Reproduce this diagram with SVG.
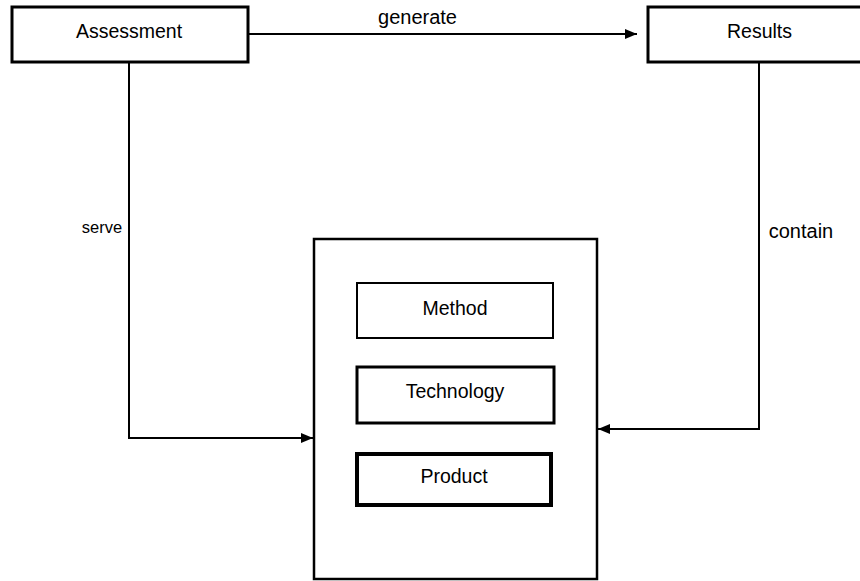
<svg xmlns="http://www.w3.org/2000/svg" width="860" height="581" viewBox="0 0 860 581">
<style>
.box{fill:#fff;stroke:#000}
.lbl{font-family:"Liberation Sans",Arial,sans-serif;font-size:19.5px;fill:#000;text-anchor:middle}
.edge{fill:none;stroke:#000;stroke-width:2}
.el{font-family:"Liberation Sans",Arial,sans-serif;fill:#000;text-anchor:middle}
</style>
<defs>
<marker id="ah" viewBox="0 0 12 10" refX="12" refY="5" markerWidth="12" markerHeight="10" markerUnits="userSpaceOnUse" orient="auto">
<path d="M0,0 L12,5 L0,10 Z" fill="#000"/>
</marker>
</defs>
<rect width="860" height="581" fill="#fff"/>
<g id="connectors">
<path class="edge" d="M248,34 L637,34" marker-end="url(#ah)"/>
<path class="edge" d="M129,62 L129,438 L313,438" marker-end="url(#ah)"/>
<path class="edge" d="M759,62 L759,429 L598,429" marker-end="url(#ah)"/>
<text class="el" x="417.5" y="24" font-size="20">generate</text>
<text class="el" x="102" y="233" font-size="16.5">serve</text>
<text class="el" x="801" y="238" font-size="20">contain</text>
</g>
<g id="assessment">
<rect class="box" x="12" y="7" width="236" height="55" stroke-width="3"/>
<text class="lbl" x="129" y="38">Assessment</text>
</g>
<g id="results">
<rect class="box" x="648" y="7" width="224" height="55" stroke-width="3"/>
<text class="lbl" x="759.5" y="38">Results</text>
</g>
<g id="container">
<rect class="box" x="314" y="239" width="283" height="340" stroke-width="2.5"/>
</g>
<g id="method">
<rect class="box" x="357" y="283" width="196" height="55" stroke-width="2"/>
<text class="lbl" x="455" y="315">Method</text>
</g>
<g id="technology">
<rect class="box" x="357" y="367" width="197" height="56" stroke-width="3"/>
<text class="lbl" x="455" y="398">Technology</text>
</g>
<g id="product">
<rect class="box" x="357" y="454" width="194" height="51" stroke-width="4"/>
<text class="lbl" x="454" y="483">Product</text>
</g>
</svg>
